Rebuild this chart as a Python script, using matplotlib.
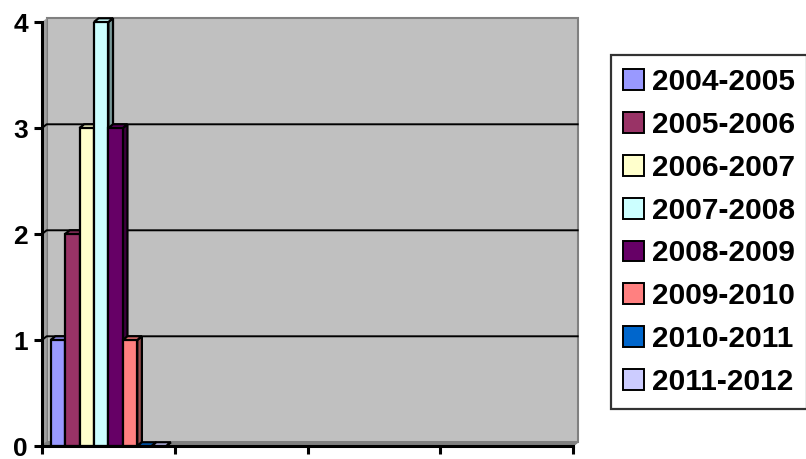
import matplotlib.pyplot as plt
from matplotlib.patches import Patch, Polygon, Rectangle
import matplotlib.colors as mcolors

plt.rcParams['font.family'] = ['Liberation Sans', 'DejaVu Sans']
plt.rcParams['font.weight'] = 'bold'

# data
seasons = ['2004-2005', '2005-2006', '2006-2007', '2007-2008',
           '2008-2009', '2009-2010', '2010-2011', '2011-2012']
values = [1, 2, 3, 4, 3, 1, 0, 0]
colors = ['#9999FF', '#993366', '#FFFFCC', '#CCFFFF',
          '#660066', '#FF8080', '#0066CC', '#CCCCFF']
n_categories = 4
yticks = [0, 1, 2, 3, 4]

fig = plt.figure(figsize=(8.06, 4.59), dpi=100)
ax = fig.add_axes([42 / 806, 13 / 459, 531 / 806, 424 / 459])
ax.set_xlim(0, n_categories)
ax.set_ylim(0, 4)
ax.set_facecolor('white')

# depth offset for the fake 3D look (data units)
dx, dy = 0.035, 0.035

# back wall, side wall, floor
ax.add_patch(Rectangle((dx, dy), n_categories, 4, facecolor='#C0C0C0',
                       edgecolor='#808080', lw=1.5, clip_on=False, zorder=0))
ax.add_patch(Polygon([(0, 0), (dx, dy), (dx, 4 + dy), (0, 4)], closed=True,
                     facecolor='#A0A0A0', edgecolor='none', clip_on=False, zorder=0))
ax.add_patch(Polygon([(0, 0), (dx, dy), (n_categories + dx, dy), (n_categories, 0)],
                     closed=True, facecolor='#808080', edgecolor='#808080',
                     clip_on=False, zorder=0.5))
for t in yticks[1:4]:
    ax.plot([0, dx, n_categories + dx], [t, t + dy, t + dy], color='black',
            lw=1.4, zorder=1, clip_on=False)

# bars in the first category
group_w = 0.87
bw = group_w / len(values)
start = 0.5 - group_w / 2
for i, (v, c) in enumerate(zip(values, colors)):
    x0 = start + i * bw
    x1 = x0 + bw
    dark = [ch * 0.6 for ch in mcolors.to_rgb(c)]
    ax.add_patch(Polygon([(x1, 0), (x1, v), (x1 + dx, v + dy), (x1 + dx, dy)],
                         closed=True, facecolor=dark, edgecolor='black', lw=1.6,
                         zorder=2 + i, clip_on=False))
    ax.add_patch(Polygon([(x0, v), (x1, v), (x1 + dx, v + dy), (x0 + dx, v + dy)],
                         closed=True, facecolor=c, edgecolor='black', lw=1.6,
                         zorder=2 + i, clip_on=False))
    ax.bar(x0, v, width=bw, align='edge', color=c, edgecolor='black', lw=1.6,
           zorder=2 + i + 0.5)

for s in ['top', 'right']:
    ax.spines[s].set_visible(False)
for s in ['left', 'bottom']:
    ax.spines[s].set_linewidth(2.2)
    ax.spines[s].set_zorder(20)

ax.set_xticks(range(n_categories + 1))
ax.set_xticklabels([])
ax.set_yticks(yticks)
ax.tick_params(axis='both', direction='out', length=6, width=2.2)
ax.tick_params(axis='y', labelsize=19, pad=4)

handles = [Patch(facecolor=c, edgecolor='black', lw=1.4) for c in colors]
leg = fig.legend(handles, seasons, loc='center',
                 bbox_to_anchor=(709 / 806, 1 - 232 / 459),
                 prop={'size': 21.5, 'weight': 'bold'},
                 frameon=True, fancybox=False, handlelength=0.7, handleheight=0.7,
                 handletextpad=0.25, labelspacing=0.5, borderpad=0.42,
                 borderaxespad=0)
leg.get_frame().set_edgecolor('black')
leg.get_frame().set_linewidth(1.6)

fig.savefig('out.png', dpi=100)
